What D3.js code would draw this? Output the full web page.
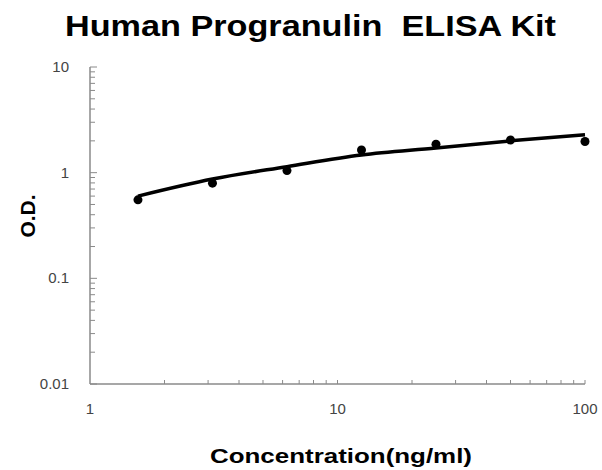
<!DOCTYPE html>
<html>
<head>
<meta charset="utf-8">
<script src="https://cdn.jsdelivr.net/npm/d3@7"></script>
<style>
  body { margin: 0; background: #fff; }
  svg text { font-family: "Liberation Sans", Arial, sans-serif; }
</style>
</head>
<body>
<div id="chart"></div>
<script>
// standard points (ng/ml, O.D.)
const conc = [1.5625, 3.125, 6.25, 12.5, 25, 50, 100];
const od = [0.553, 0.796, 1.047, 1.64, 1.86, 2.04, 1.97];
// fitted curve
const curveConc = [1.5625, 3.125, 6.25, 12.5, 25, 50, 100];
const curveOd = [0.60, 0.87, 1.14, 1.47, 1.71, 2.0, 2.28];
const xTicks = [1, 10, 100];
const yTicks = [0.01, 0.1, 1, 10];

const width = 602, height = 470;
const svg = d3.select("#chart").append("svg").attr("width", width).attr("height", height);

const x = d3.scaleLog().domain([1, 100]).range([90, 585]);
const y = d3.scaleLog().domain([0.01, 10]).range([384, 67]);
const axisColor = "#8a8a8a";

// minor ticks
const yMinor = [];
const xMinor = [];
[0.01, 0.1, 1].forEach(d => { for (let k = 2; k <= 9; k++) yMinor.push(d * k); });
[1, 10].forEach(d => { for (let k = 2; k <= 9; k++) xMinor.push(d * k); });

svg.selectAll(".ymin").data(yMinor).enter().append("line")
  .attr("x1", 90).attr("x2", 95)
  .attr("y1", d => y(d)).attr("y2", d => y(d))
  .attr("stroke", axisColor).attr("stroke-width", 1);
svg.selectAll(".ymaj").data(yTicks).enter().append("line")
  .attr("x1", 90).attr("x2", 97)
  .attr("y1", d => y(d)).attr("y2", d => y(d))
  .attr("stroke", axisColor).attr("stroke-width", 1);
svg.selectAll(".xmin").data(xMinor.concat([10, 100])).enter().append("line")
  .attr("x1", d => x(d)).attr("x2", d => x(d))
  .attr("y1", 384).attr("y2", 380)
  .attr("stroke", axisColor).attr("stroke-width", 1);

// axis lines
svg.append("line").attr("x1", 90).attr("x2", 90).attr("y1", y(10)).attr("y2", 384)
  .attr("stroke", axisColor).attr("stroke-width", 1.5);
svg.append("line").attr("x1", 90).attr("x2", 585).attr("y1", 384).attr("y2", 384)
  .attr("stroke", axisColor).attr("stroke-width", 1.5);

// tick labels
svg.selectAll(".ylab").data(yTicks).enter().append("text")
  .attr("x", 69).attr("y", d => y(d) + 5)
  .attr("text-anchor", "end").attr("font-size", 15).attr("fill", "#444")
  .text(d => d);
svg.selectAll(".xlab").data(xTicks).enter().append("text")
  .attr("x", d => x(d)).attr("y", 414)
  .attr("text-anchor", "middle").attr("font-size", 15).attr("fill", "#444")
  .text(d => d);

// fitted curve
const curveData = curveConc.map((c, i) => [c, curveOd[i]]);
svg.append("path").datum(curveData)
  .attr("d", d3.line().x(d => x(d[0])).y(d => y(d[1])).curve(d3.curveMonotoneX))
  .attr("fill", "none").attr("stroke", "#000").attr("stroke-width", 3.5);

// points
svg.selectAll(".pt").data(conc).enter().append("circle")
  .attr("cx", d => x(d)).attr("cy", (d, i) => y(od[i]))
  .attr("r", 4.5).attr("fill", "#000");

// titles (stretched like the original)
svg.append("text").attr("x", 65).attr("y", 36)
  .attr("font-size", 29).attr("font-weight", "bold")
  .attr("textLength", 491).attr("lengthAdjust", "spacingAndGlyphs")
  .style("white-space", "pre")
  .text("Human Progranulin  ELISA Kit");
svg.append("text").attr("x", 210).attr("y", 463)
  .attr("font-size", 21).attr("font-weight", "bold")
  .attr("textLength", 262).attr("lengthAdjust", "spacingAndGlyphs")
  .text("Concentration(ng/ml)");
svg.append("text")
  .attr("transform", "translate(35,216) rotate(-90)")
  .attr("text-anchor", "middle").attr("font-size", 21).attr("font-weight", "bold")
  .text("O.D.");
</script>
</body>
</html>
